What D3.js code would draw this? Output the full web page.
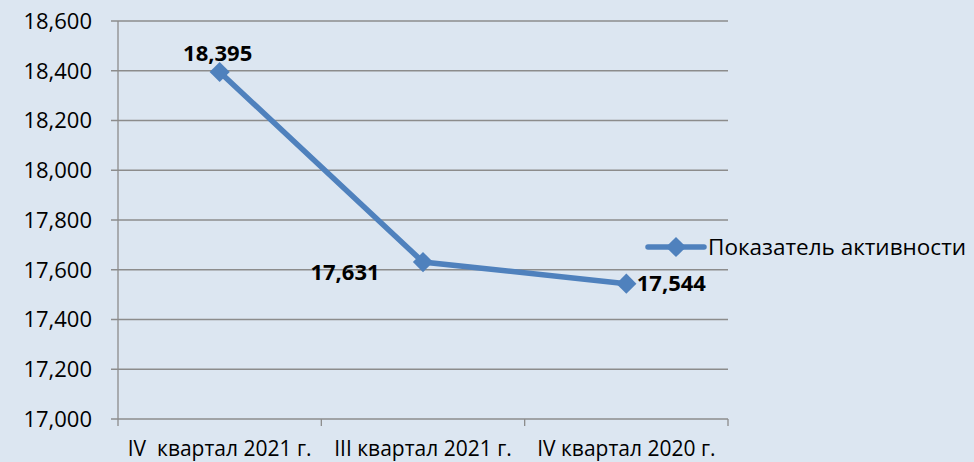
<!DOCTYPE html>
<html>
<head>
<meta charset="utf-8">
<script src="https://cdn.jsdelivr.net/npm/d3@7"></script>
<style>
  body { margin: 0; background: #dce6f1; }
  svg { display: block; font-family: 'Open Sans', sans-serif; }
</style>
</head>
<body>
<svg id="chart"></svg>
<script>
// data
const categories = ['IV  квартал 2021 г.', 'III квартал 2021 г.', 'IV квартал 2020 г.']
const values = [18395, 17631, 17544]
const seriesName = 'Показатель активности'
const yTicks = [17000, 17200, 17400, 17600, 17800, 18000, 18200, 18400, 18600]

const W = 974, H = 462
const margin = {top: 21, right: 246, bottom: 43, left: 118}
const width = W - margin.left - margin.right
const height = H - margin.top - margin.bottom

const svg = d3.select('#chart')
    .attr('width', W)
    .attr('height', H)

svg.append('rect')
    .attr('width', W).attr('height', H)
    .attr('fill', '#dce6f1')

const g = svg.append('g')
    .attr('transform', 'translate(' + margin.left + ',' + margin.top + ')')

const x = d3.scaleBand()
    .domain(categories)
    .range([0, width])

const y = d3.scaleLinear()
    .domain([17000, 18600])
    .range([height, 0])

const fmt = d3.format(',')

// gridlines
g.append('g')
    .selectAll('line')
    .data(yTicks)
    .join('line')
    .attr('x1', -7)
    .attr('x2', width)
    .attr('y1', d => y(d))
    .attr('y2', d => y(d))
    .attr('stroke', '#8c8c8c')
    .attr('stroke-width', 1.3)

// y axis line
g.append('line')
    .attr('x1', 0).attr('x2', 0)
    .attr('y1', 0).attr('y2', height)
    .attr('stroke', '#8c8c8c')
    .attr('stroke-width', 1.3)

// y labels
g.append('g')
    .selectAll('text')
    .data(yTicks)
    .join('text')
    .attr('x', -26)
    .attr('y', d => y(d))
    .attr('dy', '0.36em')
    .attr('text-anchor', 'end')
    .attr('font-size', '22px')
    .attr('fill', '#000')
    .text(d => fmt(d))

// x ticks
const xEdges = categories.map(c => x(c)).concat([width])
g.append('g')
    .selectAll('line')
    .data(xEdges)
    .join('line')
    .attr('x1', d => d).attr('x2', d => d)
    .attr('y1', height).attr('y2', height + 7)
    .attr('stroke', '#8c8c8c')
    .attr('stroke-width', 1.3)

// x labels
g.append('g')
    .selectAll('text')
    .data(categories)
    .join('text')
    .attr('x', d => x(d) + x.bandwidth() / 2)
    .attr('y', height + 37)
    .attr('text-anchor', 'middle')
    .attr('font-size', '21px')
    .attr('fill', '#000')
    .style('white-space', 'pre')
    .text(d => d)

const pts = categories.map((c, i) => ({cat: c, val: values[i]}))

// line
g.append('path')
    .datum(pts)
    .attr('fill', 'none')
    .attr('stroke', '#4f81bd')
    .attr('stroke-width', 5.5)
    .attr('d', d3.line()
        .x(d => x(d.cat) + x.bandwidth() / 2)
        .y(d => y(d.val)))

const diamond = d3.symbol().type(d3.symbolDiamond2).size(260)

g.append('g')
    .selectAll('path')
    .data(pts)
    .join('path')
    .attr('transform', d => 'translate(' + (x(d.cat) + x.bandwidth() / 2) + ',' + y(d.val) + ')')
    .attr('d', diamond)
    .attr('fill', '#4f81bd')

// value labels
const labelOffsets = [[-2, -19], [-78, 10], [45, -1]]
g.append('g')
    .selectAll('text')
    .data(pts)
    .join('text')
    .attr('x', (d, i) => x(d.cat) + x.bandwidth() / 2 + labelOffsets[i][0])
    .attr('y', (d, i) => y(d.val) + labelOffsets[i][1])
    .attr('text-anchor', 'middle')
    .attr('dy', '0.36em')
    .attr('font-size', '22px')
    .attr('font-weight', 'bold')
    .attr('fill', '#000')
    .text(d => fmt(d.val))

// legend
const leg = svg.append('g')
    .attr('transform', 'translate(648,247)')
leg.append('line')
    .attr('x1', 0).attr('x2', 56)
    .attr('stroke', '#4f81bd')
    .attr('stroke-width', 5.5)
    .attr('stroke-linecap', 'round')
leg.append('path')
    .attr('transform', 'translate(28,0)')
    .attr('d', diamond)
    .attr('fill', '#4f81bd')
leg.append('text')
    .attr('x', 60)
    .attr('dy', '0.36em')
    .attr('font-size', '22.5px')
    .attr('fill', '#000')
    .text(seriesName)
</script>
</body>
</html>
